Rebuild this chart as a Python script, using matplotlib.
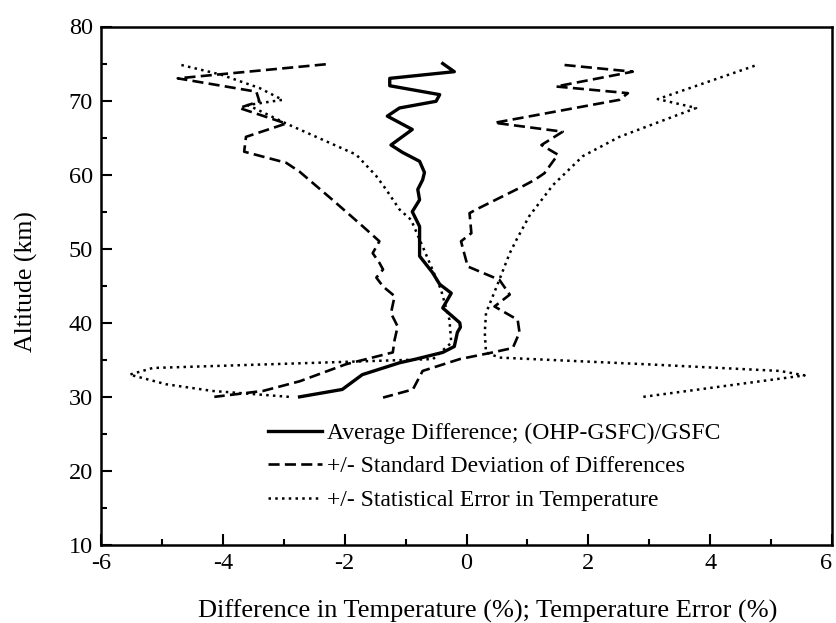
import matplotlib
matplotlib.use("Agg")
import matplotlib.pyplot as plt
from matplotlib.ticker import MultipleLocator

plt.rcParams['font.family'] = ['Liberation Serif', 'DejaVu Serif']
plt.rcParams['axes.unicode_minus'] = False

# Average difference (OHP-GSFC)/GSFC
avg_alt = [75.0, 73.9, 73.0, 72.0, 70.8, 69.9, 69.0, 67.9, 66.1, 64.0, 63.0, 61.8, 60.3,
           59.3, 58.0, 56.6, 55.0, 53.0, 51.2, 49.0, 46.8, 45.2, 44.0, 42.0, 40.0, 39.4,
           38.7, 36.8, 36.0, 35.1, 34.6, 33.0, 31.0, 30.0]
avg_diff = [-0.39, -0.20, -1.26, -1.26, -0.44, -0.50, -1.10, -1.30, -0.89, -1.24, -1.05, -0.77, -0.69,
            -0.72, -0.80, -0.77, -0.89, -0.77, -0.77, -0.77, -0.56, -0.44, -0.25, -0.39, -0.11, -0.10,
            -0.15, -0.20, -0.39, -0.83, -1.10, -1.71, -2.04, -2.74]

# - standard deviation of differences
sdlo_alt = [74.9, 73.0, 71.2, 69.9, 69.0, 66.9, 65.1, 63.1, 61.6, 60.4, 56.6, 53.0, 51.0, 49.4,
            48.1, 47.2, 46.1, 44.9, 43.6, 41.3, 39.5, 37.7, 36.0, 34.4, 32.1, 30.8, 30.0]
sdlo_val = [-2.31, -4.74, -3.45, -3.40, -3.73, -2.96, -3.62, -3.65, -2.96, -2.74, -2.20, -1.70, -1.43, -1.54,
            -1.43, -1.37, -1.48, -1.37, -1.18, -1.24, -1.13, -1.18, -1.21, -1.98, -2.74, -3.34, -4.14]

# + standard deviation of differences
sdhi_alt = [74.8, 73.9, 71.9, 71.0, 70.1, 67.0, 65.8, 64.0, 62.7, 60.2, 59.3, 58.2, 55.3, 54.8,
            52.1, 51.0, 47.6, 45.8, 43.8, 42.2, 40.4, 38.7, 36.6, 36.0, 35.1, 33.5, 31.0, 29.9]
sdhi_val = [1.61, 2.73, 1.47, 2.65, 2.51, 0.46, 1.58, 1.23, 1.50, 1.28, 1.12, 0.87, 0.16, 0.05,
            0.08, -0.09, 0.02, 0.54, 0.71, 0.46, 0.84, 0.87, 0.76, 0.43, -0.11, -0.72, -0.88, -1.37]

# - statistical error in temperature
erlo_alt = [74.8, 73.5, 71.7, 70.1, 69.4, 66.9, 62.7, 59.8, 58.0, 55.3, 53.9, 50.3, 44.5, 40.4,
            37.3, 35.1, 33.9, 33.0, 31.7, 30.8, 30.0]
erlo_val = [-4.68, -4.03, -3.40, -3.02, -3.59, -2.96, -1.81, -1.48, -1.32, -1.10, -0.91, -0.72, -0.42, -0.28,
            -0.25, -0.55, -5.15, -5.53, -4.93, -4.17, -2.91]

# + statistical error in temperature
erhi_alt = [74.7, 70.2, 69.0, 65.1, 62.5, 58.6, 54.4, 51.2, 49.4, 45.2, 41.3, 38.7, 36.0, 35.3,
            34.4, 33.5, 32.9, 30.0]
erhi_val = [4.73, 3.14, 3.77, 2.51, 1.91, 1.42, 1.03, 0.82, 0.71, 0.51, 0.32, 0.30, 0.32, 0.54,
            2.95, 5.14, 5.55, 2.90]

x_ticks = [-6, -4, -2, 0, 2, 4, 6]
x_ticklabels = ["-6", "-4", "-2", "0", "2", "4", "6"]
y_ticks = [10, 20, 30, 40, 50, 60, 70, 80]

labels = ["Average Difference; (OHP-GSFC)/GSFC",
          "+/- Standard Deviation of Differences",
          "+/- Statistical Error in Temperature"]

fig = plt.figure(figsize=(8.36, 6.23), dpi=100)
ax = fig.add_axes([101/836, 1-545/623, 731/836, (545-26.5)/623])

ln1, = ax.plot(avg_diff, avg_alt, color='black', lw=2.4, solid_joinstyle='round')
ln2, = ax.plot(sdlo_val, sdlo_alt, color='black', lw=1.9, dashes=(4.2, 2.0))
ax.plot(sdhi_val, sdhi_alt, color='black', lw=1.9, dashes=(4.2, 2.0))
ln3, = ax.plot(erlo_val, erlo_alt, color='black', lw=1.8, dashes=(1.0, 1.7))
ax.plot(erhi_val, erhi_alt, color='black', lw=1.8, dashes=(1.0, 1.7))

ax.set_xlim(-6, 6)
ax.set_ylim(10, 80)
ax.set_xticks(x_ticks)
ax.set_xticklabels(x_ticklabels)
ax.set_yticks(y_ticks)
ax.xaxis.set_minor_locator(MultipleLocator(1))
ax.yaxis.set_minor_locator(MultipleLocator(5))
ax.tick_params(which='both', direction='in', top=False, right=False, width=1.5, labelsize=17.5)
ax.tick_params(which='major', length=8)
ax.tick_params(which='minor', length=4.5)
ax.tick_params(axis='x', pad=6)
ax.tick_params(axis='y', pad=6)
for s in ax.spines.values():
    s.set_linewidth(1.8)

# keep the last x tick label ("6") inside the canvas
ax.get_xticklabels()[-1].set_horizontalalignment('right')

ax.set_xlabel("Difference in Temperature (%); Temperature Error (%)", fontsize=19)
ax.xaxis.set_label_coords(0.529, -0.106)
ax.set_ylabel("Altitude (km)", fontsize=18.5)
ax.yaxis.set_label_coords(-0.086, 0.509)

leg = ax.legend([ln1, ln2, ln3], labels, loc='upper left', bbox_to_anchor=(0.228, 0.236),
                frameon=False, fontsize=17, handlelength=2.3, handletextpad=0.2,
                borderpad=0, borderaxespad=0, labelspacing=0.5)

fig.savefig("out.png", dpi=100)
